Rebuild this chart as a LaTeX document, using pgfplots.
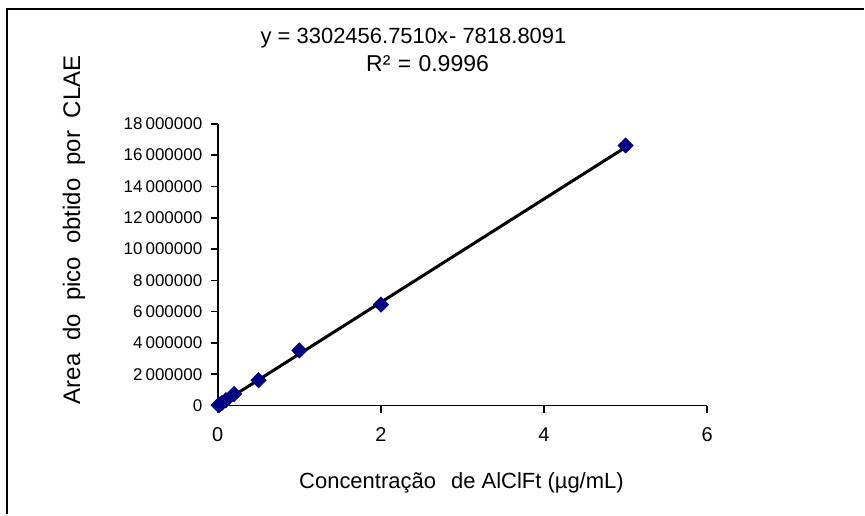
\documentclass[border=0pt]{standalone}
\usepackage{fontspec}
\setmainfont{Liberation Sans}
\usepackage{pgfplots}
\pgfplotsset{compat=1.18}
\definecolor{navypt}{RGB}{0,0,128}
\newcommand\tf{\fontsize{17}{17}\selectfont}
\newcommand\xf{\fontsize{20}{20}\selectfont}
\newcommand\eqfont{\fontsize{22}{22}\selectfont}
\newcommand\labfont{\fontsize{22}{22}\selectfont}
\newcommand\gap{\kern3pt}
\newcommand\ws{\hspace{13pt}}

\begin{document}
\begin{tikzpicture}
  \path (0pt,0pt) rectangle (865pt,515pt);
  \draw[line width=2pt] (7pt,0pt) -- (7pt,505.5pt) -- (865pt,505.5pt);
  \begin{axis}[
    at={(218pt,109pt)}, anchor=south west,
    scale only axis, width=490pt, height=282pt,
    xmin=0, xmax=6, ymin=0, ymax=18000000,
    axis x line=bottom, axis y line=left,
    axis line style={line width=1.6pt, -},
    clip=false,
    xtick={0,2,4,6}, xticklabels={\xf 0,\xf 2,\xf 4,\xf 6},
    ytick={0,2000000,4000000,6000000,8000000,10000000,12000000,14000000,16000000,18000000},
    yticklabels={\tf 0,\tf 2\gap000000,\tf 4\gap000000,\tf 6\gap000000,\tf 8\gap000000,
      \tf 10\gap000000,\tf 12\gap000000,\tf 14\gap000000,\tf 16\gap000000,\tf 18\gap000000},
    tick style={line width=1.6pt, black},
    tick align=outside, major tick length=7pt,
    xticklabel style={yshift=-12pt},
    yticklabel style={xshift=-5pt},
    scaled y ticks=false,
  ]
    \addplot[only marks, mark=square*, mark size=5.5pt,
      mark options={rotate=45, fill=navypt, draw=navypt}]
      coordinates {(0.01,25000)(0.02,60000)(0.05,160000)(0.1,340000)(0.2,730000)
                   (0.5,1620000)(1,3520000)(2,6450000)(5,16620000)};
    \addplot[black, line width=3pt] coordinates {(0,-7818.8091)(5,16504464.9459)};
  \end{axis}
  \node[font=\eqfont] at (414pt,477pt) {y = 3302456.7510x\kern1pt- 7818.8091};
  \node[font=\fontsize{23}{23}\selectfont] at (428pt,451pt) {R²\kern1pt\ =\kern1pt\ 0.9996};
  \node[font=\fontsize{24}{24}\selectfont, rotate=90] at (74pt,285pt)
    {Area\ws do\ws pico\ws obtido\ws por\ws CLAE};
  \node[font=\labfont] at (462pt,32pt) {Concentração\hspace{9pt} de AlClFt (µg/mL)};
\end{tikzpicture}
\end{document}
